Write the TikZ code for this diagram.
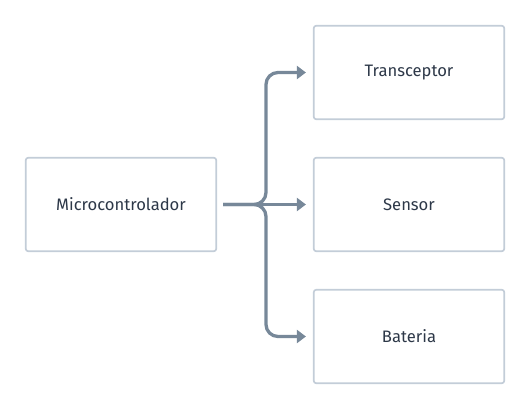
\documentclass[tikz,border=0pt]{standalone}
\usepackage{fontspec}
\setmainfont{Fira Sans}
\usetikzlibrary{arrows.meta}
\definecolor{boxline}{HTML}{C3CDD8}
\definecolor{conn}{HTML}{778899}
\definecolor{txt}{HTML}{2D3848}
\begin{document}
\begin{tikzpicture}[x=1pt,y=-1pt,
  block/.style={draw=boxline,line width=1.7pt,rounded corners=2.5pt,fill=white,
    minimum width=190.5pt,minimum height=93.5pt,inner sep=0pt,
    font=\fontsize{16.6}{20}\selectfont,text=txt},
  link/.style={draw=conn,line width=3.3pt,rounded corners=12pt,
    -{Triangle[length=9pt,width=13pt]},shorten <=6pt,shorten >=7pt}]
\useasboundingbox (0,0) rectangle (530,410);
\node[block] (m) at (121,204.5) {Microcontrolador};
\node[block] (t) at (409,72.5) {Transceptor};
\node[block] (s) at (409,204.5) {Sensor};
\node[block] (b) at (409,336.5) {Bateria};
\coordinate (j) at (266,204.5);
\draw[link] (m.east) -- (j) |- (t.west);
\draw[link] (m.east) -- (j) |- (b.west);
\draw[link] (m.east) -- (s.west);
\end{tikzpicture}
\end{document}
